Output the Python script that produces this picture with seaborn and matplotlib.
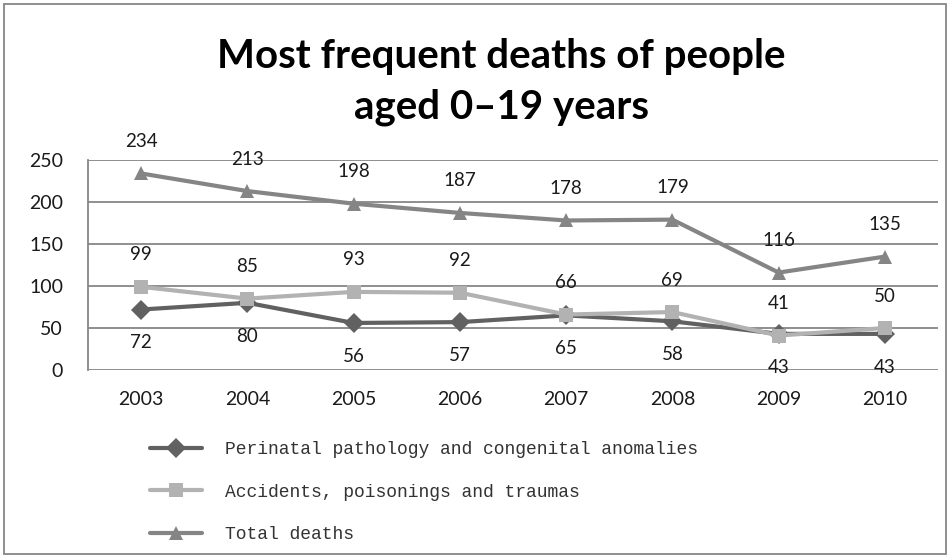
import pandas as pd
import seaborn as sns
import matplotlib.pyplot as plt
from matplotlib.patches import Rectangle

years = [2003, 2004, 2005, 2006, 2007, 2008, 2009, 2010]
perinatal = [72, 80, 56, 57, 65, 58, 43, 43]
accidents = [99, 85, 93, 92, 66, 69, 41, 50]
total = [234, 213, 198, 187, 178, 179, 116, 135]

series_names = ['Perinatal pathology and congenital anomalies',
                'Accidents, poisonings and traumas',
                'Total deaths']
yticks = [0, 50, 100, 150, 200, 250]
title_lines = ['Most frequent deaths of people', 'aged 0\u201319 years']


def build_frame():
    rows = []
    for name, vals in zip(series_names, [perinatal, accidents, total]):
        for y, v in zip(years, vals):
            rows.append({'year': y, 'deaths': v, 'series': name})
    return pd.DataFrame(rows)


def main():
    df = build_frame()
    sns.set_style('white')
    plt.rcParams['font.family'] = ['Lato', 'DejaVu Sans']

    palette = {series_names[0]: '#616161', series_names[1]: '#b2b2b2', series_names[2]: '#858585'}
    markers = {series_names[0]: 'D', series_names[1]: 's', series_names[2]: '^'}

    fig = plt.figure(figsize=(9.5, 5.58), dpi=100)
    ax = fig.add_axes([88 / 950, 1 - 370 / 558, 850 / 950, 210 / 558])

    sns.lineplot(data=df, x='year', y='deaths', hue='series', style='series',
                 palette=palette, markers=markers, dashes=False, linewidth=3,
                 markersize=10, markeredgewidth=0, ax=ax, hue_order=series_names)

    ax.set_xlim(2002.5, 2010.5)
    ax.set_ylim(0, 250)
    ax.set_yticks(yticks)
    ax.set_xticks(years)
    ax.set_xticklabels([str(y) for y in years])
    ax.tick_params(axis='both', length=0, labelsize=14, colors='#1a1a1a')
    ax.tick_params(axis='y', pad=18)
    ax.tick_params(axis='x', pad=15)
    ax.set_xlabel('')
    ax.set_ylabel('')
    ax.grid(axis='y', color='#868686', linewidth=1.3)
    ax.set_axisbelow(True)
    for side in ['top', 'right', 'bottom']:
        ax.spines[side].set_visible(False)
    ax.spines['left'].set_color('#868686')
    ax.spines['left'].set_linewidth(1.3)

    # data labels: perinatal below the points, the other two above
    for y, v in zip(years, perinatal):
        ax.annotate(str(v), (y, v), xytext=(0, -24), textcoords='offset points',
                    ha='center', va='center', fontsize=13.5, color='#1a1a1a')
    for vals in [accidents, total]:
        for y, v in zip(years, vals):
            ax.annotate(str(v), (y, v), xytext=(0, 23), textcoords='offset points',
                        ha='center', va='center', fontsize=13.5, color='#1a1a1a')

    handles, labels = ax.get_legend_handles_labels()
    ax.get_legend().remove()
    fig.legend(handles, labels, loc='upper left', bbox_to_anchor=(150 / 950, 1 - 441 / 558),
               frameon=False, borderpad=0, borderaxespad=0, handlelength=2.9,
               handletextpad=1.25, labelspacing=1.42, labelcolor='#333333',
               prop={'family': 'Liberation Mono', 'size': 13})

    fig.text(501 / 950, 1 - 68 / 558, title_lines[0], ha='center', va='baseline',
             fontsize=29, fontweight='bold', color='#000000')
    fig.text(501 / 950, 1 - 118 / 558, title_lines[1], ha='center', va='baseline',
             fontsize=29, fontweight='bold', color='#000000')

    fig.patches.append(Rectangle((4 / 950, 4 / 558), 942 / 950, 550 / 558,
                                 transform=fig.transFigure, fill=False,
                                 edgecolor='#868686', linewidth=1.3))

    fig.savefig('out.png', dpi=100)
    plt.close(fig)


if __name__ == '__main__':
    main()
